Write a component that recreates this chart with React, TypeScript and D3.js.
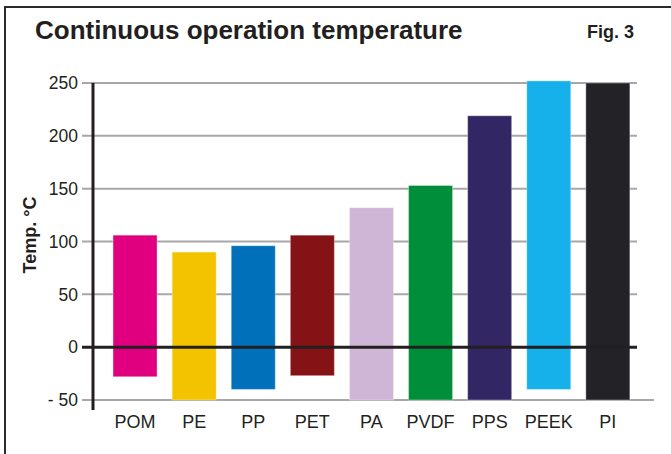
import * as d3 from "d3";
import React, { useEffect, useRef } from "react";

const categories = ["POM", "PE", "PP", "PET", "PA", "PVDF", "PPS", "PEEK", "PI"];
const lowTemps = [-28, -50, -40, -27, -50, -50, -50, -40, -50];
const highTemps = [106, 90, 96, 106, 132, 153, 219, 252, 250];
const barColors = [
  "#e0007f",
  "#f3c300",
  "#0070bb",
  "#851315",
  "#cfb5d6",
  "#008e3b",
  "#332664",
  "#16b0ea",
  "#232327",
];
const yTicks = [-50, 0, 50, 100, 150, 200, 250];
const yTickLabels = ["- 50", "0", "50", "100", "150", "200", "250"];

const W = 671;
const H = 454;

function Chart() {
  const ref = useRef<SVGSVGElement | null>(null);

  useEffect(() => {
    const svg = d3.select(ref.current);
    svg.selectAll("*").remove();

    const font = "Arial, 'Liberation Sans', sans-serif";

    // frame around the figure
    svg
      .append("rect")
      .attr("x", 5)
      .attr("y", 7)
      .attr("width", 720)
      .attr("height", 520)
      .attr("fill", "#fff")
      .attr("stroke", "#2b2b2b")
      .attr("stroke-width", 2);

    svg
      .append("text")
      .attr("x", 35)
      .attr("y", 39)
      .attr("font-family", font)
      .attr("font-weight", "bold")
      .attr("font-size", "26px")
      .attr("fill", "#231f20")
      .text("Continuous operation temperature");

    svg
      .append("text")
      .attr("x", 587)
      .attr("y", 38)
      .attr("font-family", font)
      .attr("font-weight", "bold")
      .attr("font-size", "18px")
      .attr("fill", "#231f20")
      .text("Fig. 3");

    const y = d3.scaleLinear().domain([-50, 250]).range([400, 83]);
    const x = d3
      .scaleBand<string>()
      .domain(categories)
      .range([105.5, 637.4])
      .paddingInner(0.255)
      .paddingOuter(0.1275);

    // grid lines
    svg
      .append("g")
      .selectAll("line")
      .data(yTicks.filter((t) => t !== 0))
      .enter()
      .append("line")
      .attr("x1", 82)
      .attr("x2", (d) => (d === -50 ? 654 : 637))
      .attr("y1", (d) => y(d))
      .attr("y2", (d) => y(d))
      .attr("stroke", "#a7a7aa")
      .attr("stroke-width", 2);

    // tick labels
    svg
      .append("g")
      .selectAll("text")
      .data(yTicks)
      .enter()
      .append("text")
      .attr("x", 78)
      .attr("y", (d) => y(d))
      .attr("dy", "0.36em")
      .attr("text-anchor", "end")
      .attr("font-family", font)
      .attr("font-size", "17.5px")
      .attr("fill", "#231f20")
      .text((d, i) => yTickLabels[i]);

    // bars
    svg
      .append("g")
      .selectAll("rect")
      .data(categories)
      .enter()
      .append("rect")
      .attr("x", (d) => x(d) as number)
      .attr("y", (d, i) => y(highTemps[i]))
      .attr("width", x.bandwidth())
      .attr("height", (d, i) => y(lowTemps[i]) - y(highTemps[i]))
      .attr("fill", (d, i) => barColors[i])
      .attr("stroke", "#fff")
      .attr("stroke-opacity", 0.35)
      .attr("stroke-width", 1);

    // zero line
    svg
      .append("line")
      .attr("x1", 82)
      .attr("x2", 637)
      .attr("y1", y(0))
      .attr("y2", y(0))
      .attr("stroke", "#231f20")
      .attr("stroke-width", 3);

    // y axis line
    svg
      .append("line")
      .attr("x1", 93)
      .attr("x2", 93)
      .attr("y1", y(250))
      .attr("y2", 410)
      .attr("stroke", "#231f20")
      .attr("stroke-width", 3);

    // category labels
    svg
      .append("g")
      .selectAll("text")
      .data(categories)
      .enter()
      .append("text")
      .attr("x", (d) => (x(d) as number) + x.bandwidth() / 2)
      .attr("y", 428)
      .attr("text-anchor", "middle")
      .attr("font-family", font)
      .attr("font-size", "18px")
      .attr("fill", "#231f20")
      .text((d) => d);

    svg
      .append("text")
      .attr("transform", "translate(36,235) rotate(-90)")
      .attr("text-anchor", "middle")
      .attr("font-family", font)
      .attr("font-weight", "bold")
      .attr("font-size", "18px")
      .attr("fill", "#231f20")
      .text("Temp. °C");
  }, []);

  return (
    <svg
      ref={ref}
      width={W}
      height={H}
      style={{ position: "absolute", left: 0, top: 0, background: "#fff" }}
    />
  );
}

export default function App() {
  return <Chart />;
}
